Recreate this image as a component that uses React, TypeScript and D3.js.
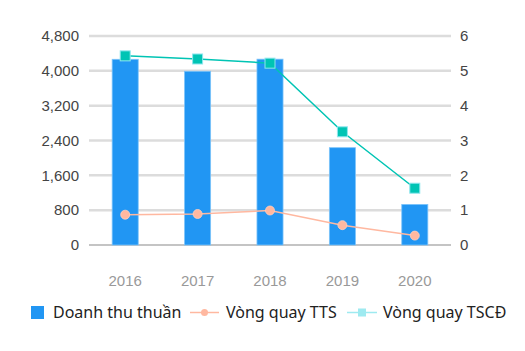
import React from "react";
import * as d3 from "d3";

const years = ["2016", "2017", "2018", "2019", "2020"];
const revenue = [4265, 3990, 4268, 2235, 932];
const ttsTurnover = [0.87, 0.89, 0.99, 0.57, 0.27];
const tscdTurnover = [5.43, 5.34, 5.22, 3.25, 1.63];
const leftTicks = [0, 800, 1600, 2400, 3200, 4000, 4800];
const rightTicks = [0, 1, 2, 3, 4, 5, 6];

const W = 525;
const H = 351;
const left = 89;
const right = 451;
const top = 36;
const bottom = 245;

export default function App() {
  const x = d3.scaleBand<string>().domain(years).range([left, right]).paddingInner(0.64).paddingOuter(0.32);
  const yL = d3.scaleLinear().domain([0, 4800]).range([bottom, top]);
  const yR = d3.scaleLinear().domain([0, 6]).range([bottom, top]);
  const cx = (d: string) => (x(d) as number) + x.bandwidth() / 2;

  const ttsLine = d3.line<number>().x((_, i) => cx(years[i])).y(d => yR(d));
  const tscdLine = d3.line<number>().x((_, i) => cx(years[i])).y(d => yR(d));

  const legendFont = "'Noto Sans', sans-serif";
  const axisFont = "'Liberation Sans', Arial, sans-serif";

  return (
    <svg width={W} height={H} style={{ position: "absolute", left: 0, top: 0 }}>
      {leftTicks.map(t => (
        <g key={t}>
          <line x1={left} x2={right} y1={yL(t)} y2={yL(t)} stroke={t === 0 ? "#b0b0b0" : "#dcdcdc"} strokeWidth={t === 0 ? 1.5 : 2.5} />
          <text x={79} y={yL(t)} dy="0.35em" textAnchor="end" fontSize={15} fill="#444" fontFamily={axisFont}>
            {d3.format(",")(t)}
          </text>
        </g>
      ))}
      {rightTicks.map(t => (
        <text key={t} x={460} y={yR(t)} dy="0.35em" textAnchor="start" fontSize={15} fill="#444" fontFamily={axisFont}>
          {t}
        </text>
      ))}
      {years.map((yr, i) => (
        <rect key={yr} x={x(yr)} y={yL(revenue[i])} width={x.bandwidth()} height={bottom - yL(revenue[i])} fill="#2196f3" stroke="#7cc4fa" strokeWidth={0.8} />
      ))}
      {years.map(yr => (
        <text key={yr} x={cx(yr)} y={281} dy="0.35em" textAnchor="middle" fontSize={15} fill="#999" fontFamily={axisFont}>
          {yr}
        </text>
      ))}
      <path d={ttsLine(ttsTurnover) || ""} fill="none" stroke="#ffb8a0" strokeWidth={1.5} />
      {ttsTurnover.map((v, i) => (
        <circle key={i} cx={cx(years[i])} cy={yR(v)} r={4.5} fill="#ffb8a0" stroke="#ffd0c0" strokeWidth={0.8} />
      ))}
      <path d={tscdLine(tscdTurnover) || ""} fill="none" stroke="#00c4b4" strokeWidth={1.5} />
      {tscdTurnover.map((v, i) => (
        <rect key={i} x={cx(years[i]) - 5} y={yR(v) - 5} width={10} height={10} fill="#00c4b4" stroke="#8fe6ee" strokeWidth={1} />
      ))}
      <g fontFamily={legendFont} fontSize={16} fill="#222">
        <rect x={31} y={306} width={13} height={13} fill="#2196f3" />
        <text x={53} y={312.5} dy="0.35em">Doanh thu thuần</text>
        <line x1={190} x2={219} y1={312.5} y2={312.5} stroke="#ffb8a0" strokeWidth={1.5} />
        <circle cx={204.5} cy={312.5} r={3.5} fill="#ffb8a0" />
        <text x={226} y={312.5} dy="0.35em">Vòng quay TTS</text>
        <line x1={347} x2={377} y1={312.5} y2={312.5} stroke="#9eeaf0" strokeWidth={1.5} />
        <rect x={358} y={308.5} width={8} height={8} fill="#9eeaf0" />
        <text x={383} y={312.5} dy="0.35em">Vòng quay TSCĐ</text>
      </g>
    </svg>
  );
}
